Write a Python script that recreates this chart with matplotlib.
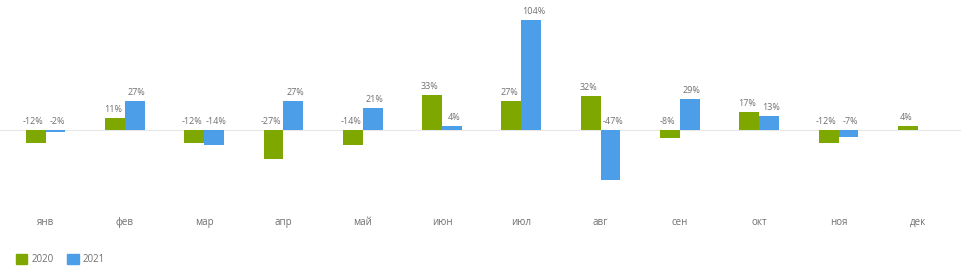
import matplotlib.pyplot as plt
from matplotlib.patches import Patch
import numpy as np

plt.rcParams['font.family'] = ['Open Sans', 'DejaVu Sans']

# данные
months = ['янв', 'фев', 'мар', 'апр', 'май', 'июн', 'июл', 'авг', 'сен', 'окт', 'ноя', 'дек']
vals_2020 = [-12, 11, -12, -27, -14, 33, 27, 32, -8, 17, -12, 4]
vals_2021 = [-2, 27, -14, 27, 21, 4, 104, -47, 29, 13, -7, None]
series_names = ['2020', '2021']

green = '#7ea800'
blue = '#4d9ee9'
label_color = '#707070'

fig = plt.figure(figsize=(9.75, 2.78), dpi=100)
ax = fig.add_axes([0, 78 / 278, 1, 190 / 278])

x = np.arange(len(months))
w = 0.25
step = 79.3
x0 = 45.5

for vals, off, color, nudge in [(vals_2020, -w / 2, green, -1.5), (vals_2021, w / 2, blue, 1.5)]:
    for xi, v in zip(x, vals):
        if v is None:
            continue
        ax.bar(xi + off, v, width=w, color=color)
        ax.annotate(f'{v}%', (xi + off, max(v, 0)), xytext=(nudge, 3),
                    textcoords='offset points', ha='center', va='bottom',
                    fontsize=6.5, color=label_color)

ax.axhline(0, xmin=0, xmax=960 / 975, color='#e8e8e8', lw=0.8, zorder=0)

ax.set_xlim(-x0 / step, (975 - x0) / step)
ax.set_ylim(-70 / 1.058, 120 / 1.058)

ax.set_xticks(x)
ax.set_xticklabels(months, fontsize=7, color=label_color)
ax.tick_params(axis='x', length=0, pad=12)
ax.set_yticks([])
for s in ax.spines.values():
    s.set_visible(False)

handles = [Patch(color=green, label=series_names[0]), Patch(color=blue, label=series_names[1])]
leg = fig.legend(handles=handles, loc='lower left', bbox_to_anchor=(7 / 975, 4 / 278),
                 ncol=2, frameon=False, fontsize=7, handlelength=1.2, handleheight=1.2,
                 handletextpad=0.4, columnspacing=1.4)
for t in leg.get_texts():
    t.set_color(label_color)

fig.savefig('out.png', dpi=100)
